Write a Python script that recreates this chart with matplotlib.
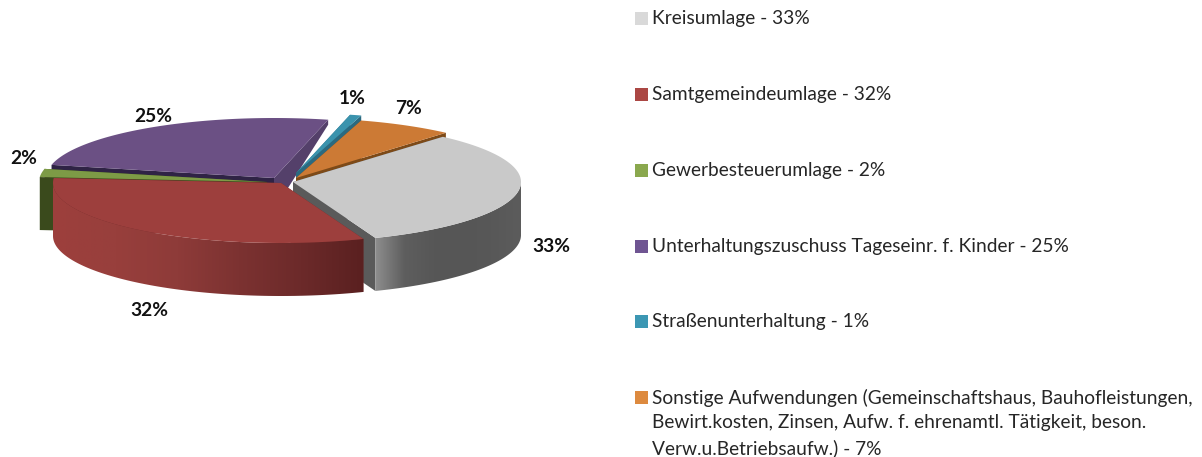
import numpy as np
import matplotlib
matplotlib.use("Agg")
import matplotlib.pyplot as plt
from matplotlib.colors import LinearSegmentedColormap
from matplotlib.patches import Polygon

# Data (shares, labels round them)
names = [
    "Kreisumlage",
    "Samtgemeindeumlage",
    "Gewerbesteuerumlage",
    "Unterhaltungszuschuss Tageseinr. f. Kinder",
    "Straßenunterhaltung",
    "Sonstige Aufwendungen (Gemeinschaftshaus, Bauhofleistungen,\n"
    "Bewirt.kosten, Zinsen, Aufw. f. ehrenamtl. Tätigkeit, beson.\n"
    "Verw.u.Betriebsaufw.)",
]
shares = [32.7, 32.2, 2.2, 25.3, 0.8, 6.8]

# Pie geometry, all in pixels of the reference
CX, CY = 281, 180.5
RX, RY = 228, 60
DEPTH = 53
START_ANGLE = 48.9
shift_x = [12, 0, -14, -7, 15, 15]
shift_y = [1.5, 2.5, 1.5, -2.5, -7.5, -2.5]

top_colors = ["#c9c9c9", "#9d3f3d", "#7d9b46", "#6b5084", "#3a93ad", "#cc7a35"]
start_wall = ["#5a5a5a", "#6d2a2a", "#3a4a1c", "#2f2345", "#2b6a80", "#7d4a18"]
end_wall = ["#5a5a5a", "#6d2a2a", "#3a4a1c", "#54406a", "#2b6a80", "#7d4a18"]
# rim shading, left to right
outer_wall = [
    ["#8e8e8e", "#5e5e5e", "#575757", "#565656", "#585858", "#5c5c5c"],
    ["#9d3f3d", "#983f3c", "#8e3b39", "#7c3231", "#6c2a2a", "#5a2020"],
    ["#3a4a1c", "#3a4a1c"],
    ["#54406a", "#54406a"],
    ["#2b6a80", "#2b6a80"],
    ["#7d4a18", "#7d4a18"],
]
legend_colors = ["#d9d9d9", "#ab4744", "#8aa84e", "#6f5592", "#3c97b3", "#dd8a3f"]

label_x = [551, 149, 24, 153, 352, 408]
label_y = [247, 310, 159, 117, 98, 108]

LEGEND_Y = [18, 94, 170, 246, 321, 397]

# Draw order: back slices first, red last
draw_order = [3, 4, 5, 2, 0, 1]
# The purple cut face next to the blue slice narrows towards the rim
wall_drop = {3: (32, 5)}

plt.rcParams["font.family"] = ["Lato", "DejaVu Sans"]

fig = plt.figure(figsize=(12.02, 4.57), dpi=100)
ax = fig.add_axes([0, 0, 1, 1])


def rim(apex, t):
    a = np.radians(t)
    return apex[0] + RX * np.cos(a), apex[1] - RY * np.sin(a)


def cut_face(apex, t, color, z, drop_apex=DEPTH, drop_rim=DEPTH):
    x, y = rim(apex, t)
    ax.fill([apex[0], x, x, apex[0]],
            [apex[1], y, y + drop_rim, apex[1] + drop_apex],
            color=color, lw=0, zorder=z)


def outer_face(apex, t0, t1, stops, z):
    # only the part of the rim that faces the viewer
    t0, t1 = min(t0, 0), max(t1, -180)
    if t0 <= t1:
        return
    xs, ys = rim(apex, np.linspace(t1, t0, 120))
    outline = np.column_stack([np.r_[xs, xs[::-1]], np.r_[ys, ys[::-1] + DEPTH]])
    clip = Polygon(outline, closed=True, transform=ax.transData, fc="none", ec="none")
    ax.add_patch(clip)
    cmap = LinearSegmentedColormap.from_list("rim", stops)
    im = ax.imshow(np.linspace(0, 1, 256)[None, :], cmap=cmap, aspect="auto",
                   extent=[xs.min(), xs.max(), outline[:, 1].max(), outline[:, 1].min()],
                   zorder=z, interpolation="bilinear")
    im.set_clip_path(clip)


angles = START_ANGLE - np.cumsum([0] + shares) * 3.6

for n, i in enumerate(draw_order):
    z = 10 * (n + 1)
    apex = (CX + shift_x[i], CY + shift_y[i])
    t0, t1 = angles[i], angles[i + 1]
    cut_face(apex, t0, start_wall[i], z)
    if i in wall_drop:
        cut_face(apex, t1, end_wall[i], z + 1, *wall_drop[i])
    else:
        cut_face(apex, t1, end_wall[i], z + 1)
    outer_face(apex, t0, t1, outer_wall[i], z + 2)
    xs, ys = rim(apex, np.linspace(t0, t1, 120))
    ax.fill(np.r_[apex[0], xs], np.r_[apex[1], ys],
            color=top_colors[i], lw=0, zorder=z + 3)

for i, share in enumerate(shares):
    ax.text(label_x[i], label_y[i], f"{share:.0f}%", fontsize=13.8, fontweight="bold",
            color="#111111", ha="center", va="center", zorder=200)

    ax.fill([635, 648, 648, 635],
            [LEGEND_Y[i] - 6.5, LEGEND_Y[i] - 6.5, LEGEND_Y[i] + 6.5, LEGEND_Y[i] + 6.5],
            color=legend_colors[i], lw=0, zorder=200)
    ax.text(652, LEGEND_Y[i] - 8, f"{names[i]} - {share:.0f}%", fontsize=13.75,
            color="#262626", ha="left", va="top", linespacing=1.52, zorder=200)

ax.set_xlim(0, 1202)
ax.set_ylim(457, 0)
ax.axis("off")

fig.savefig("out.png", dpi=100)
